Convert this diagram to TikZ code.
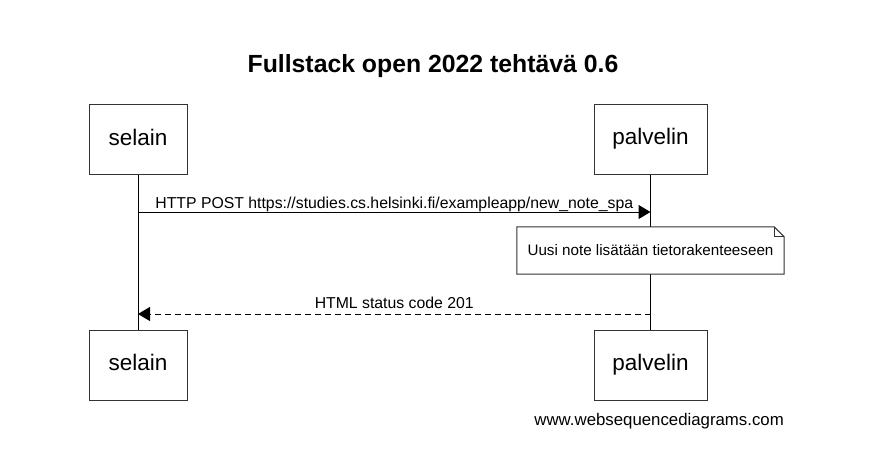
\documentclass[tikz,border=0pt]{standalone}
\usepackage{fontspec}
\setmainfont{Liberation Sans}
\usetikzlibrary{arrows.meta}

\begin{document}
\begin{tikzpicture}[x=1pt, y=-1pt,
    actor/.style={draw=black!80, line width=1pt, fill=white, minimum width=98pt,
      minimum height=70pt, inner sep=0pt, text height=16pt, text depth=4.5pt,
      font=\fontsize{22.5}{26}\selectfont},
    msg/.style={line width=1pt, -{Triangle[length=12pt,width=14pt]}},
    msglabel/.style={anchor=base, inner sep=0pt, font=\fontsize{15.8}{18}\selectfont}]
    \useasboundingbox (0,0) rectangle (870,467);
    % title
    \node[font=\bfseries\fontsize{24.8}{28}\selectfont] (title) at (433,66) {Fullstack open 2022 tehtävä 0.6};
    % participants
    \node[actor] (selainA) at (138,139.5) {selain};
    \node[actor, minimum width=113pt] (palvelinA) at (650.5,139) {palvelin};
    \node[actor] (selainB) at (138,365) {selain};
    \node[actor, minimum width=113pt] (palvelinB) at (650.5,365) {palvelin};
    % lifelines
    \draw[line width=1pt] (selainA) -- (selainB);
    \draw[line width=1pt] (palvelinA) -- (palvelinB);
    % messages
    \coordinate (s1) at (138,212);
    \coordinate (p1) at (650.5,212);
    \coordinate (s2) at (138,314);
    \coordinate (p2) at (650.5,314);
    \draw[msg] (s1) -- (p1)
      node[msglabel, midway, yshift=4pt] (post) {HTTP POST https://studies.cs.helsinki.fi/exampleapp/new\_note\_spa};
    \draw[msg, dash pattern=on 6pt off 4pt] (p2) -- (s2)
      node[msglabel, midway, yshift=6pt] (reply) {HTML status code 201};
    % note
    \node[minimum width=267pt, minimum height=47pt, inner sep=0pt] (note) at (650.5,250.5) {};
    \fill[white] (note.north west) rectangle (note.south east);
    \draw[line width=1pt, draw=black!80] (note.north west) -- ([xshift=-10pt]note.north east)
      -- ([yshift=-10pt]note.north east) -- (note.south east) -- (note.south west) -- cycle;
    \draw[line width=1pt, draw=black!80] ([xshift=-10pt]note.north east) |- ([yshift=-10pt]note.north east);
    \node[font=\fontsize{15.2}{18}\selectfont] (notetext) at (note) {Uusi note lisätään tietorakenteeseen};
    % footer
    \node[anchor=east, inner sep=0pt, font=\fontsize{16.8}{20}\selectfont] (footer) at (784,421) {www.websequencediagrams.com};
\end{tikzpicture}
\end{document}
